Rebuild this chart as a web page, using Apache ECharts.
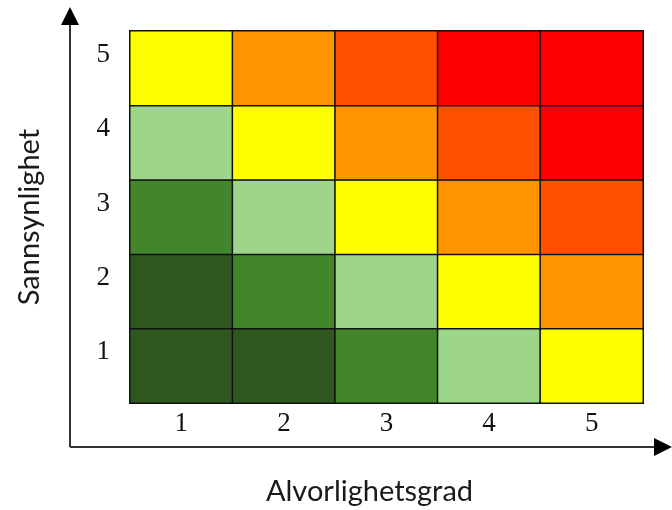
<!DOCTYPE html>
<html>
<head>
<meta charset="utf-8">
<script src="https://cdn.jsdelivr.net/npm/echarts@6/dist/echarts.min.js"></script>
<style>html,body{margin:0;padding:0;background:#fff;}#c{width:672px;height:510px;}</style>
</head>
<body>
<div id="c"></div>
<script>
const severity = ['1', '2', '3', '4', '5'];
const probability = ['1', '2', '3', '4', '5'];
// risk level per cell, rows = probability 1..5, columns = severity 1..5
const riskProb1 = [1, 1, 2, 3, 4];
const riskProb2 = [1, 2, 3, 4, 5];
const riskProb3 = [2, 3, 4, 5, 6];
const riskProb4 = [3, 4, 5, 6, 7];
const riskProb5 = [4, 5, 6, 7, 7];
const levelColors = ['#2E561E', '#42862B', '#9DD68A', '#FFFF00', '#FF9300', '#FF5000', '#FF0000'];
const xTitle = 'Alvorlighetsgrad';
const yTitle = 'Sannsynlighet';

const rows = [riskProb1, riskProb2, riskProb3, riskProb4, riskProb5];
const data = [];
rows.forEach((r, yi) => r.forEach((v, xi) => data.push([xi, yi, v])));

const chart = echarts.init(document.getElementById('c'));
const serif = '"Liberation Serif", "DejaVu Serif", serif';
const sans = 'Lato, "Open Sans", sans-serif';
chart.setOption({
  animation: false,
  grid: { left: 130, right: 29, top: 31, bottom: 107, containLabel: false, outerBoundsMode: 'none' },
  xAxis: {
    type: 'category', data: severity,
    axisLine: { show: false }, axisTick: { show: false }, splitLine: { show: false },
    axisLabel: { fontFamily: serif, fontSize: 27, color: '#111', margin: 7 },
    name: xTitle, nameLocation: 'middle', nameGap: 74,
    nameTextStyle: { fontFamily: sans, fontSize: 29, color: '#1a1a1a', padding: [0, 34, 0, 0] }
  },
  yAxis: {
    type: 'category', data: probability,
    axisLine: { show: false }, axisTick: { show: false }, splitLine: { show: false },
    axisLabel: { fontFamily: serif, fontSize: 27, color: '#111', margin: 20, verticalAlign: 'bottom' },
    name: yTitle, nameLocation: 'middle', nameGap: 86,
    nameTextStyle: { fontFamily: sans, fontSize: 29, color: '#1a1a1a', padding: [14, 0, 0, 0] }
  },
  visualMap: {
    show: false, type: 'piecewise', dimension: 2,
    pieces: levelColors.map((c, i) => ({ value: i + 1, color: c }))
  },
  series: [{
    type: 'heatmap', data: data,
    itemStyle: { borderColor: '#111', borderWidth: 1.5 },
    emphasis: { disabled: true }
  }],
  graphic: [
    { type: 'line', shape: { x1: 70, y1: 447, x2: 70, y2: 22 }, style: { stroke: '#333', lineWidth: 2 } },
    { type: 'polygon', shape: { points: [[70, 7], [61, 25], [79, 25]] }, style: { fill: '#000' } },
    { type: 'line', shape: { x1: 70, y1: 447, x2: 656, y2: 447 }, style: { stroke: '#333', lineWidth: 2 } },
    { type: 'polygon', shape: { points: [[672, 447], [654, 438], [654, 456]] }, style: { fill: '#000' } }
  ]
});
</script>
</body>
</html>
